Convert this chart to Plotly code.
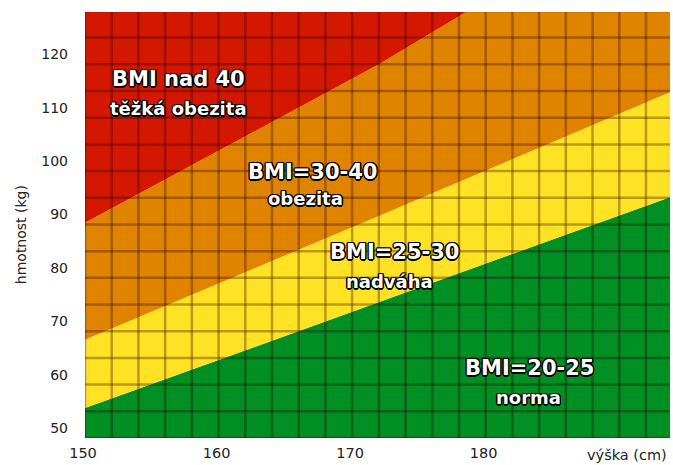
import plotly.graph_objects as go

# ---- data ----
heights = [150, 172, 194]                 # cm (boundary sample points)
bmi25_w = [55.6, 75.4, 95.3]              # kg, green / yellow boundary
bmi30_w = [68.4, 91.6, 115.0]             # kg, yellow / orange boundary
bmi40_w = [90.3, 120.0, 153.0]            # kg, orange / red boundary
floor_w = [40, 40, 40]
ceil_w = [170, 170, 170]

x_ticks = [150, 160, 170, 180]
y_ticks = [50, 60, 70, 80, 90, 100, 110, 120]
grid_x = list(range(150, 196, 2))
grid_y = list(range(50, 131, 5))

zone_titles = ["BMI nad 40", "BMI=30-40", "BMI=25-30", "BMI=20-25"]
zone_names = ["těžká obezita", "obezita", "nadváha", "norma"]

RED = "#d41800"
ORANGE = "#e08400"
YELLOW = "#ffe224"
GREEN = "#008f22"

fig = go.Figure()
fig.add_trace(go.Scatter(x=heights, y=floor_w, mode="lines", line=dict(width=0),
                         showlegend=False, hoverinfo="skip"))
for ys, col in [(bmi25_w, GREEN), (bmi30_w, YELLOW), (bmi40_w, ORANGE), (ceil_w, RED)]:
    fig.add_trace(go.Scatter(x=heights, y=ys, mode="lines", line=dict(width=0),
                             fill="tonexty", fillcolor=col, showlegend=False,
                             hoverinfo="skip"))

# grid drawn above the colour zones
gx, gy = [], []
for v in grid_x:
    gx += [v, v, None]
    gy += [grid_y[0], grid_y[-1], None]
for v in grid_y:
    gx += [grid_x[0], grid_x[-1], None]
    gy += [v, v, None]
fig.add_trace(go.Scatter(x=gx, y=gy, mode="lines",
                         line=dict(color="rgba(40,0,0,0.32)", width=2.5),
                         showlegend=False, hoverinfo="skip"))

outline = ("1px 1px 0 #000, -1px -1px 0 #000, 1px -1px 0 #000, -1px 1px 0 #000, "
           "0 1.5px 0 #000, 1.5px 0 0 #000, -1.5px 0 0 #000, 0 -1.5px 0 #000")
title_pos = [(157.0, 117.2), (167.0, 99.8), (173.2, 84.8), (183.3, 63.1)]
name_pos = [(157.0, 111.8), (166.5, 94.8), (172.8, 79.4), (183.2, 57.5)]
for t, (x, y) in zip(zone_titles, title_pos):
    fig.add_annotation(x=x, y=y, xref="x", yref="y", text=t, showarrow=False,
                       font=dict(family="DejaVu Sans", size=21, color="white",
                                 weight="bold", shadow=outline))
for t, (x, y) in zip(zone_names, name_pos):
    fig.add_annotation(x=x, y=y, xref="x", yref="y", text=t, showarrow=False,
                       font=dict(family="DejaVu Sans", size=18, color="white",
                                 weight="bold", shadow=outline))

fig.add_annotation(x=0.9265, y=-0.04, xref="paper", yref="paper",
                   text="výška (cm)", showarrow=False, xanchor="center", yanchor="middle",
                   font=dict(family="DejaVu Sans", size=14.5, color="#222"))
fig.add_annotation(x=-0.108, y=0.478, xref="paper", yref="paper",
                   text="hmotnost (kg)", showarrow=False, textangle=-90,
                   xanchor="center", yanchor="middle",
                   font=dict(family="DejaVu Sans", size=14, color="#222"))

fig.update_layout(
    width=673, height=465,
    margin=dict(l=85, r=3, t=12, b=27, autoexpand=False),
    paper_bgcolor="white", plot_bgcolor="white",
    xaxis=dict(range=[150, 193.8], showgrid=False, zeroline=False, tickvals=x_ticks,
               ticks="", ticklabelstandoff=4, ticklabelshift=-2, automargin=False,
               tickfont=dict(family="DejaVu Sans", size=14.5, color="#222"),
               fixedrange=True),
    yaxis=dict(range=[50, 129.8], showgrid=False, zeroline=False, tickvals=y_ticks,
               ticks="", ticklabelstandoff=16, ticklabelshift=-10, automargin=False,
               tickfont=dict(family="DejaVu Sans", size=14, color="#222"),
               fixedrange=True),
)

fig.write_html("out.html", config={"displayModeBar": False},
               post_script="document.body.style.margin='0px';document.body.style.overflow='hidden';")
